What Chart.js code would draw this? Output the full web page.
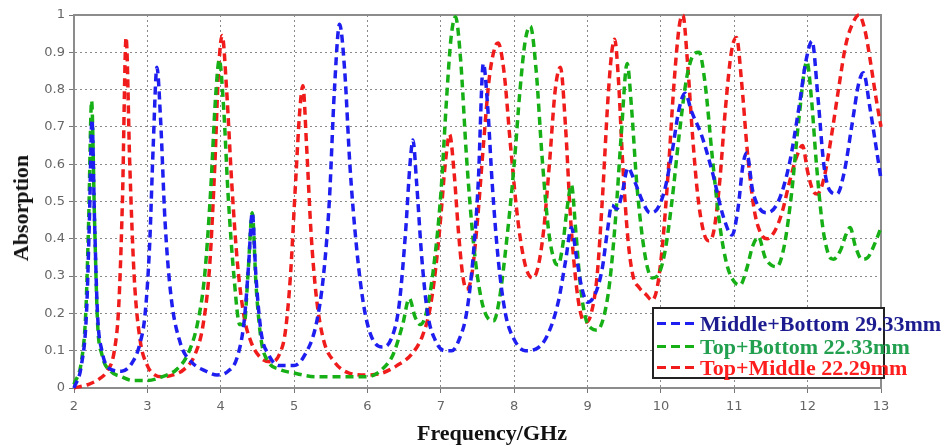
<!DOCTYPE html>
<html>
<head>
<meta charset="utf-8">
<script src="https://cdn.jsdelivr.net/npm/chart.js@4.4.1/dist/chart.umd.min.js"></script>
<style>
  html, body { margin: 0; padding: 0; background: #fff; }
  #wrap { position: relative; width: 946px; height: 446px; overflow: hidden; }
  canvas { position: absolute; left: 0; top: 0; }
  .ttl { position: absolute; font-family: "Liberation Serif", "Times New Roman", serif; font-weight: bold; font-size: 22px; color: #111; white-space: nowrap; }
  #xt { left: 492px; top: 433px; transform: translate(-50%, -50%); }
  #yt { left: 21px; top: 208px; transform: translate(-50%, -50%) rotate(-90deg); }
  #legend { position: absolute; left: 652px; top: 307px; width: 229px; height: 68px; border: 2px solid #222; background: #fff; }
  .row { position: absolute; left: 3px; height: 22px; white-space: nowrap; font-family: "Liberation Serif", "Times New Roman", serif; font-weight: bold; font-size: 22px; line-height: 22px; }
  .sw { display: inline-block; width: 37px; height: 3px; vertical-align: middle; margin-right: 6px; position: relative; top: -2px; }
</style>
</head>
<body>
<div id="wrap">
  <canvas id="c" width="946" height="446"></canvas>
  <div class="ttl" id="xt">Frequency/GHz</div>
  <div class="ttl" id="yt">Absorption</div>
  <div id="legend"></div>
</div>
<script>
// ---------- data ----------
const seriesNames = ["Middle+Bottom 29.33mm", "Top+Bottom 22.33mm", "Top+Middle 22.29mm"];

const mbFreq = [2.0,2.1,2.17,2.21,2.245,2.28,2.32,2.38,2.5,2.65,2.8,2.9,2.97,3.03,3.08,3.13,3.18,3.24,3.32,3.45,3.6,3.8,3.95,4.1,4.22,4.32,4.38,4.43,4.48,4.55,4.65,4.8,5.0,5.15,5.3,5.4,5.48,5.55,5.62,5.69,5.76,5.85,5.95,6.05,6.2,6.32,6.43,6.52,6.58,6.62,6.67,6.74,6.82,6.92,7.05,7.15,7.25,7.35,7.44,7.51,7.58,7.64,7.7,7.78,7.88,8.0,8.15,8.3,8.45,8.6,8.7,8.78,8.85,8.92,9.0,9.1,9.2,9.27,9.33,9.4,9.47,9.55,9.65,9.75,9.85,9.95,10.05,10.15,10.25,10.33,10.42,10.55,10.7,10.85,10.97,11.05,11.12,11.17,11.25,11.35,11.45,11.6,11.75,11.88,11.98,12.06,12.14,12.22,12.3,12.4,12.5,12.6,12.7,12.76,12.85,12.93,13.0];
const mbAbs  = [0.0,0.06,0.2,0.45,0.72,0.45,0.2,0.1,0.05,0.045,0.07,0.12,0.2,0.38,0.65,0.86,0.72,0.45,0.25,0.12,0.07,0.045,0.035,0.045,0.08,0.18,0.33,0.47,0.3,0.15,0.09,0.06,0.06,0.09,0.17,0.3,0.5,0.8,0.975,0.85,0.6,0.38,0.22,0.14,0.11,0.13,0.22,0.42,0.6,0.665,0.55,0.35,0.2,0.13,0.1,0.1,0.13,0.2,0.35,0.55,0.87,0.75,0.55,0.35,0.2,0.13,0.1,0.105,0.14,0.23,0.34,0.43,0.35,0.27,0.23,0.25,0.32,0.42,0.49,0.48,0.52,0.59,0.55,0.5,0.47,0.48,0.53,0.63,0.75,0.79,0.74,0.68,0.58,0.46,0.41,0.48,0.6,0.63,0.53,0.48,0.47,0.5,0.6,0.75,0.88,0.93,0.78,0.6,0.53,0.52,0.58,0.7,0.82,0.845,0.75,0.65,0.56];

const tbFreq = [2.0,2.1,2.16,2.2,2.24,2.28,2.32,2.38,2.5,2.65,2.8,3.0,3.2,3.4,3.55,3.68,3.78,3.86,3.93,3.98,4.04,4.1,4.18,4.26,4.32,4.37,4.43,4.48,4.55,4.65,4.8,5.0,5.3,5.7,6.0,6.2,6.35,6.48,6.57,6.65,6.72,6.8,6.9,7.0,7.08,7.14,7.2,7.27,7.35,7.45,7.55,7.65,7.72,7.8,7.9,8.0,8.08,8.15,8.22,8.3,8.38,8.47,8.55,8.6,8.66,8.72,8.78,8.84,8.9,8.97,9.05,9.13,9.22,9.3,9.38,9.46,9.54,9.6,9.67,9.75,9.82,9.88,9.95,10.05,10.15,10.25,10.35,10.45,10.52,10.6,10.7,10.8,10.9,11.0,11.08,11.17,11.25,11.33,11.42,11.5,11.58,11.68,11.78,11.88,11.99,12.05,12.12,12.2,12.28,12.35,12.45,12.52,12.58,12.65,12.74,12.82,12.9,13.0];
const tbAbs  = [0.01,0.07,0.2,0.45,0.77,0.45,0.18,0.09,0.045,0.03,0.02,0.02,0.03,0.05,0.09,0.17,0.3,0.52,0.78,0.88,0.75,0.52,0.3,0.17,0.17,0.3,0.47,0.28,0.13,0.07,0.05,0.04,0.03,0.03,0.03,0.05,0.09,0.17,0.24,0.19,0.17,0.2,0.32,0.52,0.78,0.94,0.995,0.88,0.62,0.38,0.24,0.185,0.18,0.24,0.4,0.6,0.8,0.93,0.97,0.85,0.62,0.42,0.34,0.33,0.38,0.48,0.545,0.42,0.28,0.19,0.16,0.155,0.19,0.28,0.45,0.68,0.87,0.75,0.55,0.4,0.32,0.295,0.3,0.36,0.5,0.68,0.83,0.895,0.9,0.82,0.62,0.44,0.33,0.285,0.276,0.32,0.38,0.405,0.35,0.33,0.325,0.38,0.52,0.72,0.875,0.78,0.6,0.44,0.36,0.345,0.37,0.41,0.43,0.38,0.345,0.35,0.38,0.43];

const tmFreq = [2.0,2.2,2.35,2.45,2.55,2.61,2.66,2.71,2.76,2.82,2.9,3.0,3.1,3.2,3.35,3.5,3.65,3.76,3.85,3.92,3.97,4.02,4.08,4.15,4.23,4.32,4.42,4.55,4.7,4.8,4.88,4.95,5.02,5.08,5.12,5.17,5.23,5.3,5.4,5.55,5.75,6.0,6.2,6.4,6.6,6.75,6.85,6.93,7.0,7.06,7.12,7.18,7.24,7.3,7.35,7.42,7.5,7.58,7.66,7.74,7.78,7.86,7.95,8.05,8.15,8.25,8.32,8.4,8.48,8.56,8.63,8.7,8.77,8.85,8.92,8.98,9.05,9.13,9.2,9.28,9.33,9.37,9.42,9.48,9.55,9.62,9.7,9.8,9.88,9.95,10.02,10.1,10.18,10.25,10.3,10.36,10.43,10.5,10.58,10.65,10.72,10.8,10.88,10.96,11.03,11.1,11.18,11.27,11.36,11.45,11.55,11.65,11.75,11.85,11.93,12.0,12.07,12.13,12.22,12.32,12.42,12.52,12.62,12.7,12.78,12.86,12.93,13.0];
const tmAbs  = [0.0,0.01,0.025,0.045,0.1,0.22,0.5,0.94,0.6,0.3,0.13,0.06,0.035,0.03,0.035,0.05,0.09,0.17,0.33,0.6,0.85,0.945,0.8,0.55,0.33,0.19,0.12,0.08,0.07,0.09,0.15,0.3,0.55,0.75,0.81,0.65,0.42,0.25,0.13,0.07,0.04,0.035,0.04,0.06,0.09,0.14,0.21,0.32,0.46,0.6,0.68,0.58,0.42,0.3,0.265,0.3,0.45,0.65,0.83,0.915,0.925,0.85,0.65,0.45,0.33,0.295,0.32,0.42,0.6,0.8,0.86,0.7,0.45,0.27,0.19,0.177,0.2,0.3,0.5,0.78,0.9,0.935,0.83,0.6,0.4,0.3,0.27,0.25,0.235,0.27,0.38,0.58,0.82,0.97,1.0,0.88,0.68,0.52,0.42,0.395,0.42,0.55,0.75,0.9,0.94,0.82,0.63,0.48,0.415,0.4,0.42,0.47,0.55,0.62,0.65,0.58,0.53,0.52,0.56,0.67,0.8,0.92,0.98,1.0,0.96,0.87,0.78,0.7];

const xTicks = [2,3,4,5,6,7,8,9,10,11,12,13];
const yTicks = [0,0.1,0.2,0.3,0.4,0.5,0.6,0.7,0.8,0.9,1];

// ---------- styles ----------
const lineColors = ["#1e1ef0", "#16b016", "#f01c1c"];
const textColors = ["#1c1c90", "#22a050", "#ff1e1e"];

function pts(fs, vs) { return fs.map((f, i) => ({ x: f, y: vs[i] })); }
const seriesData = [pts(mbFreq, mbAbs), pts(tbFreq, tbAbs), pts(tmFreq, tmAbs)];

const frame = {
  id: "frame",
  beforeDatasetsDraw(chart) {
    const a = chart.chartArea, ctx = chart.ctx;
    ctx.save();
    ctx.strokeStyle = "#8c8c8c";
    ctx.lineWidth = 2;
    ctx.setLineDash([]);
    ctx.strokeRect(a.left, a.top, a.right - a.left, a.bottom - a.top);
    ctx.restore();
  }
};

const tickFont = { family: "'DejaVu Sans', Tahoma, sans-serif", size: 13 };

new Chart(document.getElementById("c"), {
  type: "line",
  data: {
    datasets: seriesData.map((d, i) => ({
      label: seriesNames[i],
      data: d,
      borderColor: lineColors[i],
      borderWidth: 3.5,
      borderDash: [8, 5],
      pointRadius: 0,
      fill: false,
      cubicInterpolationMode: "monotone",
      clip: 4
    }))
  },
  options: {
    responsive: false,
    animation: false,
    layout: { padding: { left: 0, top: 15, right: 65, bottom: 0 } },
    plugins: { legend: { display: false }, tooltip: { enabled: false } },
    scales: {
      x: {
        type: "linear",
        min: 2, max: 13,
        afterBuildTicks: s => { s.ticks = xTicks.map(v => ({ value: v })); },
        afterFit: s => { s.height = 58; },
        ticks: { color: "#666", font: tickFont, padding: 6, maxRotation: 0 },
        grid: { color: "#8a8a8a", lineWidth: 1, tickLength: 5, tickColor: "#777" },
        border: { display: true, color: "#8c8c8c", width: 2, dash: [2, 3] }
      },
      y: {
        type: "linear",
        min: 0, max: 1,
        afterBuildTicks: s => { s.ticks = yTicks.map(v => ({ value: v })); },
        afterFit: s => { s.width = 74; },
        ticks: { color: "#666", font: tickFont, padding: 4, callback: v => String(+v.toFixed(1)) },
        grid: { color: "#8a8a8a", lineWidth: 1, tickLength: 5, tickColor: "#777" },
        border: { display: true, color: "#8c8c8c", width: 2, dash: [2, 3] }
      }
    }
  },
  plugins: [frame]
});

// ---------- legend (HTML text) ----------
const lg = document.getElementById("legend");
const rowTops = [4, 27, 48];
seriesNames.forEach((n, i) => {
  const r = document.createElement("div");
  r.className = "row";
  r.style.top = rowTops[i] + "px";
  r.style.color = textColors[i];
  const sw = document.createElement("span");
  sw.className = "sw";
  sw.style.background = `repeating-linear-gradient(to right, ${lineColors[i]} 0 9px, transparent 9px 14px)`;
  r.appendChild(sw);
  r.appendChild(document.createTextNode(n));
  lg.appendChild(r);
});
</script>
</body>
</html>
